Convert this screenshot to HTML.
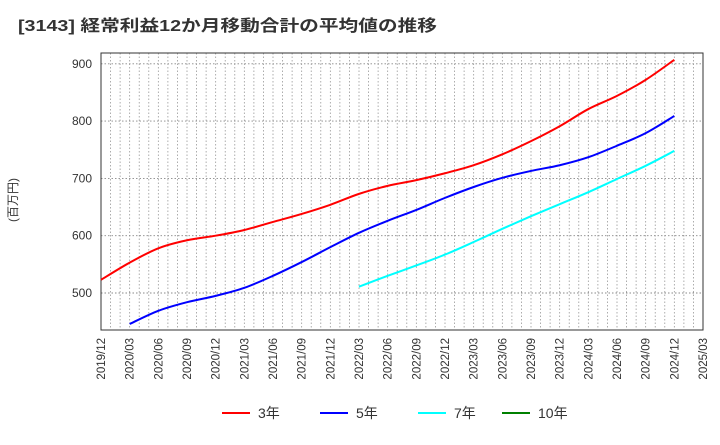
<!DOCTYPE html>
<html><head><meta charset="utf-8"><style>
body{margin:0;background:#fff;font-family:"Liberation Sans","Noto Sans CJK JP",sans-serif}
svg text{font-family:"Liberation Sans","Noto Sans CJK JP",sans-serif}
</style></head><body>
<svg id="c" width="720" height="440" xmlns="http://www.w3.org/2000/svg">
<text x="18" y="31" font-size="16" font-weight="bold" fill="#333" textLength="419" lengthAdjust="spacingAndGlyphs">[3143]  経常利益12か月移動合計の平均値の推移</text>
<text transform="translate(17,200) rotate(-90)" font-size="12" fill="#333" text-anchor="middle">(百万円)</text>
<g id="grid"></g><g id="axes"></g><g id="series"></g><g id="legend"></g>
</svg>
<script>
const xLabels=["2019/12","2020/03","2020/06","2020/09","2020/12","2021/03","2021/06","2021/09","2021/12","2022/03","2022/06","2022/09","2022/12","2023/03","2023/06","2023/09","2023/12","2024/03","2024/06","2024/09","2024/12","2025/03"];
const yTicks=[500,600,700,800,900];
const s3=[523,553,578,592,600,610,624,638,654,673,687,697,709,723,742,765,791,821,844,872,907];
const s5=[null,446,469,484,495,509,530,554,580,605,626,645,666,685,701,713,723,737,757,779,809];
const s7=[null,null,null,null,null,null,null,null,null,511,530,548,567,589,612,634,655,676,699,722,748];
const s10=[];
const L=101,R=703,T=53,B=330;
const NS="http://www.w3.org/2000/svg";
const X=i=>L+(R-L)*i/(xLabels.length-1);
const Y=v=>293-(v-500)*0.573;
function mk(tag,attrs,parent){const e=document.createElementNS(NS,tag);for(const k in attrs)e.setAttribute(k,attrs[k]);document.getElementById(parent).appendChild(e);return e;}
for(let m=1;m<(xLabels.length-1)*3;m++){const x=L+(R-L)*m/((xLabels.length-1)*3);
const g=mk('line',{x1:x,x2:x,y1:T,y2:B,stroke:'#999','stroke-width':0.8,'stroke-dasharray':'1.5,2'},'grid');

}
yTicks.forEach(v=>{const g=mk('line',{x1:L,x2:R,y1:Y(v),y2:Y(v),stroke:'#888','stroke-width':0.9,'stroke-dasharray':'1.5,2'},'grid');


const t=mk('text',{x:L-9,y:Y(v)+4,'font-size':12,fill:'#333','text-anchor':'end'},'axes');t.textContent=v;

});
const fr=mk('rect',{x:L,y:T,width:R-L,height:B-T,fill:'none',stroke:'#333','stroke-width':1},'axes');


xLabels.forEach((l,i)=>{const t=mk('text',{transform:`translate(${X(i)+4},${B+8}) rotate(-90)`,'font-size':11.5,fill:'#333','text-anchor':'end'},'axes');t.textContent=l;

});
function path(arr){const p=[];arr.forEach((v,i)=>{if(v!=null)p.push([X(i),Y(v)]);});if(p.length<2)return '';
let d=`M${p[0][0]},${p[0][1]}`;for(let i=0;i<p.length-1;i++){const p0=p[Math.max(0,i-1)],p1=p[i],p2=p[i+1],p3=p[Math.min(p.length-1,i+2)];
d+=` C${p1[0]+(p2[0]-p0[0])/6},${p1[1]+(p2[1]-p0[1])/6} ${p2[0]-(p3[0]-p1[0])/6},${p2[1]-(p3[1]-p1[1])/6} ${p2[0]},${p2[1]}`;}return d;}
[[s3,'#ff0000','series-3yr'],[s5,'#0000ff','series-5yr'],[s7,'#00ffff','series-7yr'],[s10,'#008000','series-10yr']].forEach(([a,c,n])=>{const d=path(a);if(!d)return;
const e=mk('path',{d:d,fill:'none',stroke:c,'stroke-width':2},'series');

});
[['3年','#ff0000',222],['5年','#0000ff',320],['7年','#00ffff',418],['10年','#008000',502]].forEach(([t,c,x])=>{
const l=mk('line',{x1:x,x2:x+28,y1:413,y2:413,stroke:c,'stroke-width':2},'legend');


const tx=mk('text',{x:x+36,y:418,'font-size':14,fill:'#333'},'legend');tx.textContent=t;

});
</script>
</body></html>
